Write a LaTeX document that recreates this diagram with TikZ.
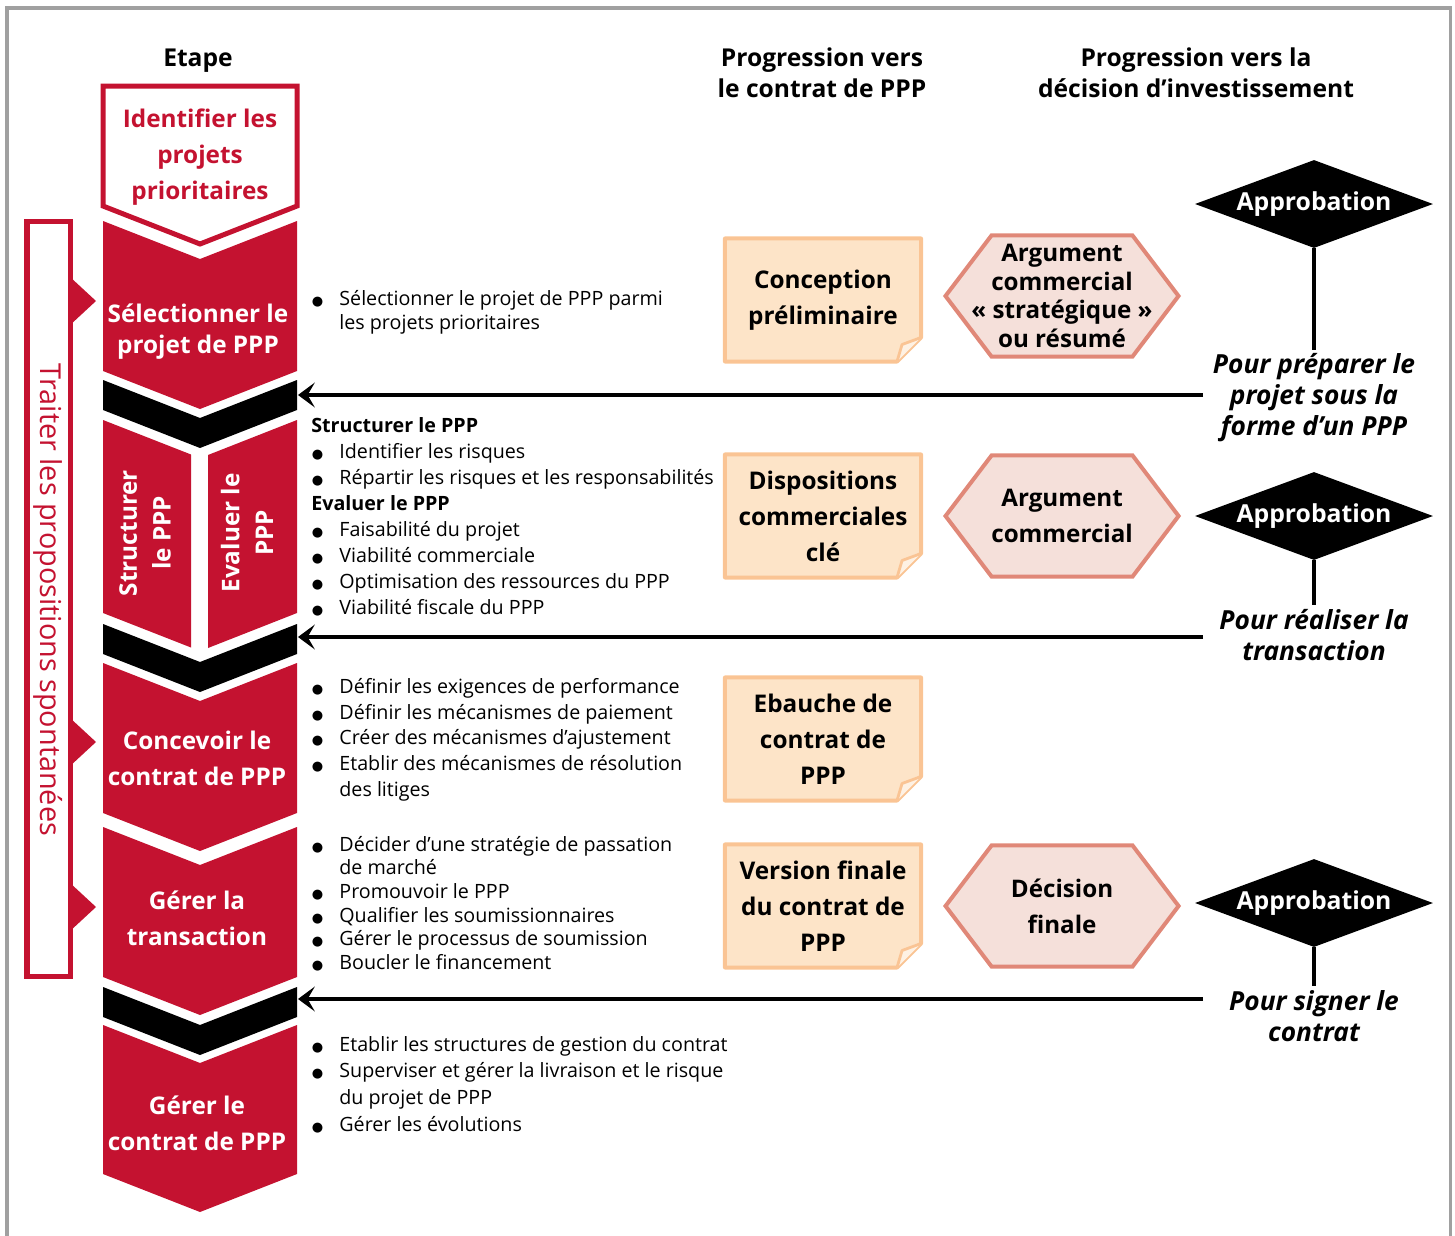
\documentclass[tikz,border=0pt]{standalone}
\usepackage{fontspec}
\setmainfont{Open Sans}
\newfontfamily\symboles{DejaVu Sans}
\usetikzlibrary{arrows.meta,positioning,shapes.geometric,calc}

\definecolor{rouge}{HTML}{C41230}
\definecolor{docfond}{HTML}{FDE4C8}
\definecolor{docbord}{HTML}{FAC494}
\definecolor{docpli}{HTML}{FEF1E3}
\definecolor{hexfond}{HTML}{F5E0DA}
\definecolor{hexbord}{HTML}{E08878}
\definecolor{cadre}{HTML}{A0A0A0}

\newcommand{\puce}{\makebox[20pt][l]{\hspace*{0.5pt}{\symboles\fontsize{9.3}{10}\selectfont ●}}}
\newcommand{\suite}{\hspace*{20pt}}

\tikzset{
  rouge bloc/.style={fill=rouge},
  noir bloc/.style={fill=black},
  etiquette/.style={text=white, align=center, inner sep=0pt, font=\bfseries\fontsize{17.3}{#1}\selectfont},
  etiquette/.default=25.6,
  entete/.style={align=center, inner sep=0pt, font=\bfseries\fontsize{17.5}{22}\selectfont},
  liste/.style={anchor=north west, align=left, inner sep=0pt, font=\fontsize{14}{#1}\selectfont},
  doc/.style={rectangle, minimum width=5cm, minimum height=3.175cm, inner sep=0pt,
    align=center, font=\bfseries\fontsize{17.3}{25.6}\selectfont,
    path picture={
      \coordinate (pa) at (path picture bounding box.north west);
      \coordinate (pb) at (path picture bounding box.south east);
      \filldraw[fill=docfond, draw=docbord, line width=0.1cm, line join=round]
        ($(pa)+(2,2)$) -- ($(pb |- pa)+(-2,2)$) -- ($(pb)+(-2,-26)$)
        -- ($(pb)+(-26,-2)$) -- ($(pa |- pb)+(2,-2)$) -- cycle;
      \filldraw[fill=docpli, draw=docbord, line width=0.07cm, line join=round]
        ($(pb)+(-26,-2)$) -- ++(5,-17) -- ($(pb)+(-2,-26)$);
    }},
  hexa/.style={rectangle, minimum width=5.975cm, minimum height=3.125cm, inner sep=0pt,
    align=center, font=\bfseries\fontsize{17.2}{#1}\selectfont,
    path picture={
      \coordinate (pa) at (path picture bounding box.north west);
      \coordinate (pb) at (path picture bounding box.south east);
      \coordinate (pc) at (path picture bounding box.center);
      \filldraw[fill=hexfond, draw=hexbord, line width=0.1cm, line join=miter]
        ($(pa |- pc)+(3,0)$) -- ($(pa)+(49,2)$) -- ($(pb |- pa)+(-49,2)$)
        -- ($(pb |- pc)+(-3,0)$) -- ($(pb)+(-49,-2)$) -- ($(pa |- pb)+(49,-2)$) -- cycle;
    }},
  hexa/.default=25.6,
  appro/.style={diamond, aspect=2.7, fill=black, text=white, inner sep=0pt,
    minimum width=5.95cm, minimum height=2.2cm, font=\bfseries\fontsize{17.6}{20}\selectfont},
  pour/.style={align=center, inner sep=0.1cm, font=\bfseries\itshape\fontsize{18.7}{22}\selectfont},
  fleche/.style={line width=0.1cm, -{Stealth[length=0.42cm, width=0.62cm, inset=0.18cm]}},
  trait/.style={line width=0.1cm}
}

\begin{document}
\begin{tikzpicture}[x=0.025cm, y=-0.025cm]
\useasboundingbox (0,0) rectangle (1455,1236);
\draw[cadre, line width=0.075cm] (7,8) rectangle (1450,1300);

% en-tetes
\node[entete] (etape) at (198,61) {Etape};
\node[entete] (prog1) at (822,73) {Progression vers\\le contrat de PPP};
\node[entete] (prog2) at (1196,73) {Progression vers la\\décision d’investissement};

% colonne des etapes
\draw[rouge, line width=0.125cm, line join=miter] (103,86) -- (297,86) -- (297,206) -- (200,244) -- (103,206) -- cycle;
\foreach \h/\b in {221/371, 663/813, 827/977, 1025/1174}
  \fill[rouge bloc] (103,\h) -- (200,\h+38) -- (297,\h) -- (297,\b) -- (200,\b+38) -- (103,\b) -- cycle;
\fill[rouge bloc] (103,420) -- (191,454.5) -- (191,647.5) -- (103,613) -- cycle;
\fill[rouge bloc] (208,455) -- (297,420) -- (297,613) -- (208,648) -- cycle;
\foreach \h in {380, 624, 987}
  \fill[noir bloc] (103,\h) -- (200,\h+38) -- (297,\h) -- (297,\h+30) -- (200,\h+68) -- (103,\h+30) -- cycle;
\coordinate (b1) at (298,395);
\coordinate (b2) at (298,637);
\coordinate (b3) at (298,999);

\node[etiquette, text=rouge] (identifier) at (200,157) {Identifier les\\projets\\prioritaires};
\node[etiquette=22] (selection) at (198,332) {Sélectionner le\\projet de PPP};
\node[etiquette=24, rotate=90] (structurer) at (145,533) {Structurer\\le PPP};
\node[etiquette=24, rotate=90] (evaluer) at (247,533) {Evaluer le\\PPP};
\node[etiquette] (concevoir) at (197,758) {Concevoir le\\contrat de PPP};
\node[etiquette] (transaction) at (197,918) {Gérer la\\transaction};
\node[etiquette] (gestion) at (197,1123) {Gérer le\\contrat de PPP};

% propositions spontanees
\draw[rouge, line width=0.125cm, fill=white] (27,221) rectangle (70,976);
\foreach \y in {301, 742, 907}
  \fill[rouge] (69,\y-25) -- (96,\y) -- (69,\y+25) -- cycle;
\node[rotate=-90, text=rouge, font=\fontsize{20.5}{22}\selectfont] (traiter) at (48,600) {Traiter les propositions spontanées};

% listes
\node[liste=17.1] (l1) at (311,290) {\puce Sélectionner le projet de PPP parmi\\\suite les projets prioritaires};
\node[liste=18.5] (l2) at (311,417) {\textbf{Structurer le PPP}\\\puce Identifier les risques\\\puce Répartir les risques et les responsabilités\\\textbf{Evaluer le PPP}\\\puce Faisabilité du projet\\\puce Viabilité commerciale\\\puce Optimisation des ressources du PPP\\\puce Viabilité fiscale du PPP};
\node[liste=18.3] (l3) at (311,678) {\puce Définir les exigences de performance\\\puce Définir les mécanismes de paiement\\\puce Créer des mécanismes d’ajustement\\\puce Etablir des mécanismes de résolution\\\suite des litiges};
\node[liste=16.8] (l4) at (311,836) {\puce Décider d’une stratégie de passation\\\suite de marché\\\puce Promouvoir le PPP\\\puce Qualifier les soumissionnaires\\\puce Gérer le processus de soumission\\\puce Boucler le financement};
\node[liste=19] (l5) at (311,1036) {\puce Etablir les structures de gestion du contrat\\\puce Superviser et gérer la livraison et le risque\\\suite du projet de PPP\\\puce Gérer les évolutions};

% contrat de PPP
\node[doc] (conception) at (823,300) {Conception\\préliminaire};
\node[doc] (dispositions) at (823,516) {Dispositions\\commerciales\\clé};
\node[doc] (ebauche) at (823,739) {Ebauche de\\contrat de\\PPP};
\node[doc] (version) at (823,906) {Version finale\\du contrat de\\PPP};

% decision d'investissement
\node[hexa=20.3] (argument) at (1062,296) {Argument\\commercial\\« stratégique »\\ou résumé};
\node[hexa, on grid, right=5.975cm of dispositions] (commercial) {Argument\\commercial};
\node[hexa, on grid, right=5.975cm of version] (decision) {Décision\\finale};

\node[appro] (app1) at (1314,204) {Approbation};
\node[appro] (app2) at (1314,516) {Approbation};
\node[appro] (app3) at (1314,903) {Approbation};
\node[pour] (pour1) at (1314,398) {Pour préparer le\\projet sous la\\forme d’un PPP};
\node[pour] (pour2) at (1314,635) {Pour réaliser la\\transaction};
\node[pour] (pour3) at (1314,1016) {Pour signer le\\contrat};
\draw[trait] (app1.south) -- (pour1.north);
\draw[trait] (app2.south) -- (pour2.north);
\draw[trait] (app3.south) -- (pour3.north);

\coordinate (d1) at (1203,395);
\coordinate (d2) at (1203,637);
\coordinate (d3) at (1203,999);
\draw[fleche] (d1) -- (b1);
\draw[fleche] (d2) -- (b2);
\draw[fleche] (d3) -- (b3);
\end{tikzpicture}
\end{document}
